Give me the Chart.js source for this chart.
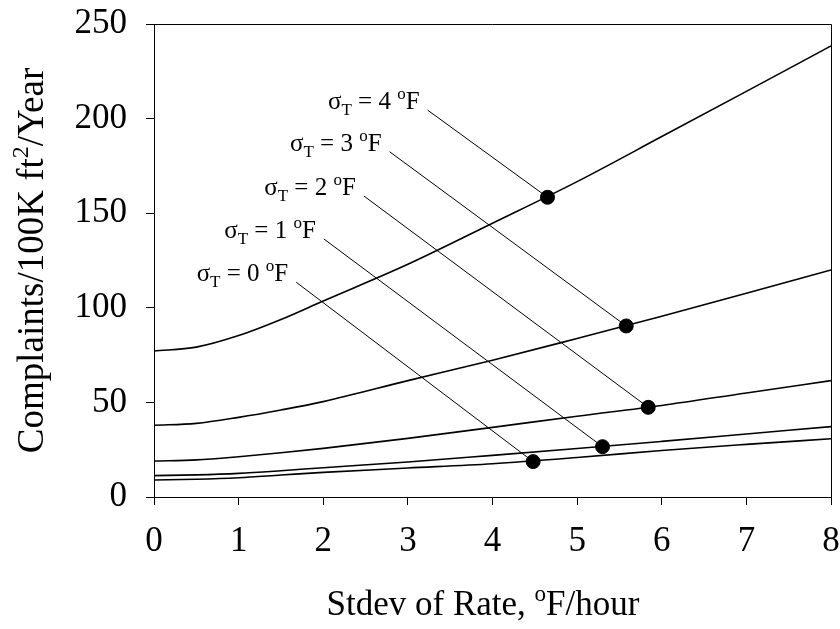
<!DOCTYPE html>
<html>
<head>
<meta charset="utf-8">
<script src="https://cdn.jsdelivr.net/npm/chart.js@4.4.1/dist/chart.umd.min.js"></script>
<style>
  html, body { margin: 0; padding: 0; background: #fff; }
  canvas { display: block; }
</style>
</head>
<body>
<canvas id="c" width="840" height="629"></canvas>
<script>
// ---- data ----
const xValues = [0, 0.5, 1, 1.5, 2, 3, 4, 5, 6, 7, 8];
const sigma0 = [9.0, 9.4, 10.2, 11.6, 13.0, 15.3, 17.6, 20.9, 24.6, 27.8, 30.8];
const sigma1 = [11.3, 11.7, 12.5, 13.9, 15.5, 18.5, 22.0, 25.6, 29.4, 33.3, 37.2];
const sigma2 = [19.0, 19.6, 21.3, 23.4, 25.7, 31.0, 36.8, 42.7, 48.4, 55.0, 61.5];
const sigma3 = [37.9, 38.9, 42.1, 46.0, 50.4, 61.5, 72.3, 83.8, 95.5, 107.7, 120.0];
const sigma4 = [77.2, 79.2, 85.3, 93.8, 103.6, 123.0, 144.7, 166.7, 190.5, 214.4, 238.4];
const sigmaNames = ['0', '1', '2', '3', '4'];
const markerX = [4.48, 5.30, 5.84, 5.58, 4.65];
const markerY = [18.7, 26.6, 47.4, 90.4, 158.4];
const labelX = [1.681, 2.007, 2.480, 2.784, 3.233];
const labelY = [113.5, 136.4, 159.1, 182.5, 204.5];
const xMin = 0, xMax = 8, xStep = 1;
const yMin = 0, yMax = 250, yStep = 50;

const FONT = '"Liberation Serif", "Times New Roman", serif';
const series = [sigma0, sigma1, sigma2, sigma3, sigma4];

const datasets = [];
series.forEach((s, i) => {
  datasets.push({
    type: 'line',
    data: xValues.map((x, k) => ({ x: x, y: s[k] })),
    borderColor: '#000', borderWidth: 1.6,
    pointRadius: 0, fill: false,
    cubicInterpolationMode: 'monotone'
  });
});
series.forEach((s, i) => {
  datasets.push({
    type: 'line',
    data: [{ x: labelX[i], y: labelY[i] }, { x: markerX[i], y: markerY[i] }],
    borderColor: '#000', borderWidth: 1,
    pointRadius: 0, fill: false, tension: 0
  });
});
datasets.push({
  type: 'scatter',
  data: markerX.map((x, i) => ({ x: x, y: markerY[i] })),
  backgroundColor: '#000', borderColor: '#000',
  pointRadius: 7, pointHoverRadius: 7
});

function drawRich(ctx, parts, x, y, align) {
  let total = 0;
  parts.forEach(p => { ctx.font = p.size + 'px ' + FONT; p.w = ctx.measureText(p.t).width; total += p.w; });
  let cx = align === 'right' ? x - total : (align === 'center' ? x - total / 2 : x);
  ctx.textAlign = 'left';
  ctx.textBaseline = 'alphabetic';
  parts.forEach(p => {
    ctx.font = p.size + 'px ' + FONT;
    ctx.fillText(p.t, cx, y + (p.dy || 0));
    cx += p.w;
  });
}

const decor = {
  id: 'decor',
  afterDraw(chart) {
    const ctx = chart.ctx;
    const a = chart.chartArea;
    const xs = chart.scales.x, ys = chart.scales.y;
    ctx.save();
    ctx.strokeStyle = '#000';
    ctx.lineWidth = 1;
    ctx.beginPath();
    ctx.moveTo(a.left, a.top + 0.5);
    ctx.lineTo(a.right + 0.5, a.top + 0.5);
    ctx.lineTo(a.right + 0.5, a.bottom);
    ctx.stroke();
    ctx.fillStyle = '#000';
    for (let i = 0; i < sigmaNames.length; i++) {
      const px = xs.getPixelForValue(labelX[i]);
      const py = ys.getPixelForValue(labelY[i]);
      drawRich(ctx, [
        { t: 'σ', size: 25 },
        { t: 'T', size: 17, dy: 6 },
        { t: ' = ' + sigmaNames[i] + ' ', size: 25 },
        { t: 'o', size: 17, dy: -10 },
        { t: 'F', size: 25 }
      ], px - 8, py - 1, 'right');
    }
    drawRich(ctx, [
      { t: 'Stdev of Rate, ', size: 35 },
      { t: 'o', size: 23, dy: -14 },
      { t: 'F/hour', size: 35 }
    ], 483, 615, 'center');
    ctx.translate(43, (a.top + a.bottom) / 2);
    ctx.rotate(-Math.PI / 2);
    drawRich(ctx, [
      { t: 'Complaints/100K ft', size: 37 },
      { t: '2', size: 24, dy: -15 },
      { t: '/Year', size: 37 }
    ], 0, 0, 'center');
    ctx.restore();
  }
};

function zeroPad(s) { s.paddingLeft = 0; s.paddingRight = 0; s.paddingTop = 0; s.paddingBottom = 0; }

new Chart(document.getElementById('c'), {
  data: { datasets: datasets },
  plugins: [decor],
  options: {
    responsive: false,
    animation: false,
    devicePixelRatio: 1,
    layout: { padding: { top: 24, right: 9, left: 0, bottom: 0 } },
    plugins: { legend: { display: false }, tooltip: { enabled: false } },
    scales: {
      x: {
        type: 'linear', min: xMin, max: xMax,
        ticks: { stepSize: xStep, color: '#000', font: { family: FONT, size: 35 }, padding: 16, maxRotation: 0 },
        grid: { drawOnChartArea: false, drawTicks: true, tickLength: 8, tickColor: '#000' },
        border: { display: true, color: '#000', width: 1 },
        afterFit(s) { s.height = 132; zeroPad(s); }
      },
      y: {
        type: 'linear', min: yMin, max: yMax,
        ticks: { stepSize: yStep, color: '#000', font: { family: FONT, size: 35 }, padding: 19 },
        grid: { drawOnChartArea: false, drawTicks: true, tickLength: 8, tickColor: '#000' },
        border: { display: true, color: '#000', width: 1 },
        afterFit(s) { s.width = 154; zeroPad(s); }
      }
    }
  }
});
</script>
</body>
</html>
